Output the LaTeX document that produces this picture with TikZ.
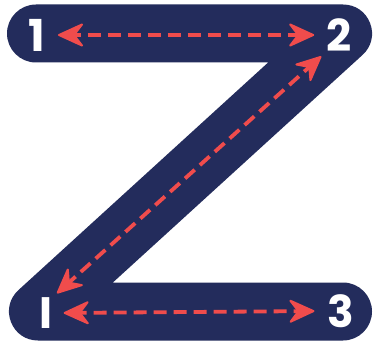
\documentclass[tikz,border=0pt]{standalone}
\usepackage{fontspec}
\newfontfamily\digitfont{Poppins}
\usetikzlibrary{calc,decorations.markings}
\definecolor{navy}{HTML}{232C5C}
\definecolor{arrowred}{HTML}{F04C4C}
\tikzset{
  zstroke/.style={draw=navy, line width=58pt, line cap=round, line join=round},
  numlabel/.style={text=white, font=\digitfont\bfseries\fontsize{44}{44}\selectfont, inner sep=2pt},
  dashline/.style={draw=arrowred, line width=3.8pt, dash pattern=on 13pt off 7pt, shorten <=10pt, shorten >=10pt},
  tipshape/.style={fill=arrowred, draw=arrowred, line width=2pt, line join=round, solid},
  bothtips/.style={postaction=decorate, decoration={markings,
    mark=at position 0 with {\path[tipshape] (1pt,0pt) -- (24pt,10.5pt) -- (16pt,0pt) -- (24pt,-10.5pt) -- cycle;},
    mark=at position 1 with {\path[tipshape] (-1pt,0pt) -- (-24pt,10.5pt) -- (-16pt,0pt) -- (-24pt,-10.5pt) -- cycle;}}}
}
\begin{document}
\begin{tikzpicture}[x=1pt,y=-1pt]
\useasboundingbox[fill=white] (0,0) rectangle (375,345);
\coordinate (tl) at (36,33.5);
\coordinate (tr) at (343,33.5);
\coordinate (bl) at (38,311.5);
\coordinate (br) at (343,311.5);
\draw[zstroke] (tl) -- (tr) -- (bl) -- (br);
\node[numlabel] (n1) at (36.5,35) {1};
\node[numlabel] (n2) at (339,35) {2};
\node[numlabel] (nI) at (46,313) {I};
\node[numlabel] (n3) at (341,311) {3};
% arrow end points
\coordinate (a1) at ($(n1.east)!11pt!(n2.west)$);
\coordinate (a2) at ($(n2.west)!10pt!(n1.east)$);
\coordinate (b1) at ($(nI.east)!9pt!(n3.west)$);
\coordinate (b2) at ($(n3.west)!11pt!(nI.east)$);
\coordinate (c1) at ($(n2.south west)!4pt!(nI.north east)$);
\coordinate (c2) at ($(nI.north east)!3pt!(n2.south west)$);
\draw[dashline] (a1) -- (a2);
\path[bothtips] (a1) -- (a2);
\draw[dashline] (b1) -- (b2);
\path[bothtips] (b1) -- (b2);
\draw[dashline] (c1) -- (c2);
\path[bothtips] (c1) -- (c2);
\end{tikzpicture}
\end{document}
